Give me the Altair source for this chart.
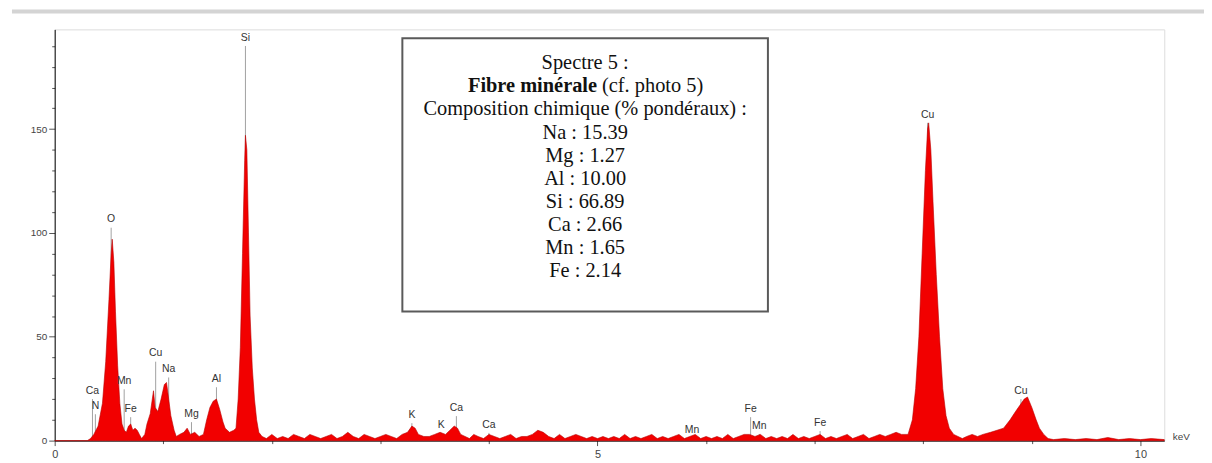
import altair as alt
import pandas as pd

# Spectrum (energy in keV, counts)
energy = [0.00, 0.30, 0.33, 0.36, 0.40, 0.44, 0.47, 0.50, 0.52, 0.53, 0.545, 0.56, 0.58, 0.60, 0.62, 0.64,
          0.66, 0.68, 0.70, 0.72, 0.74, 0.76, 0.78, 0.80, 0.83, 0.85, 0.88, 0.91, 0.925, 0.95, 0.98, 1.01,
          1.03, 1.05, 1.07, 1.10, 1.12, 1.15, 1.19, 1.22, 1.25, 1.29, 1.33, 1.37, 1.40, 1.43, 1.46, 1.49,
          1.52, 1.55, 1.57, 1.61, 1.65, 1.67, 1.69, 1.71, 1.73, 1.75, 1.757, 1.77, 1.785, 1.80, 1.82, 1.84,
          1.86, 1.88, 1.91, 1.95, 2.00, 2.05, 2.10, 2.15, 2.20, 2.25, 2.30, 2.35, 2.40, 2.45, 2.50, 2.55,
          2.60, 2.65, 2.70, 2.75, 2.80, 2.85, 2.90, 2.95, 3.00, 3.05, 3.10, 3.15, 3.20, 3.25, 3.29, 3.32,
          3.35, 3.40, 3.45, 3.50, 3.55, 3.60, 3.64, 3.68, 3.71, 3.74, 3.78, 3.82, 3.86, 3.90, 3.95, 4.00,
          4.05, 4.10, 4.15, 4.20, 4.25, 4.30, 4.35, 4.40, 4.45, 4.50, 4.55, 4.60, 4.65, 4.70, 4.75, 4.80,
          4.85, 4.90, 4.95, 5.00, 5.05, 5.10, 5.15, 5.20, 5.25, 5.30, 5.35, 5.40, 5.45, 5.50, 5.55, 5.60,
          5.65, 5.70, 5.75, 5.80, 5.85, 5.90, 5.95, 6.00, 6.05, 6.10, 6.15, 6.20, 6.25, 6.30, 6.35, 6.40,
          6.45, 6.50, 6.55, 6.60, 6.65, 6.70, 6.75, 6.80, 6.85, 6.90, 6.95, 7.00, 7.05, 7.10, 7.15, 7.20,
          7.25, 7.30, 7.35, 7.40, 7.45, 7.50, 7.55, 7.60, 7.65, 7.70, 7.75, 7.80, 7.86, 7.90, 7.93, 7.96,
          7.99, 8.02, 8.04, 8.05, 8.07, 8.09, 8.12, 8.15, 8.18, 8.21, 8.24, 8.28, 8.32, 8.36, 8.40, 8.45,
          8.50, 8.55, 8.62, 8.68, 8.74, 8.80, 8.85, 8.89, 8.93, 8.96, 9.00, 9.04, 9.07, 9.11, 9.15, 9.20,
          9.30, 9.40, 9.50, 9.60, 9.70, 9.80, 9.90, 10.00, 10.10, 10.22]
counts = [0, 0, 1, 3, 7, 18, 38, 68, 90, 97, 86, 62, 36, 18, 8, 5,
          4, 7, 8, 5, 6, 5, 3, 1, 3, 8, 13, 24, 16, 14, 20, 27,
          28, 20, 12, 5, 2, 3, 4, 6, 3, 4, 2, 3, 10, 16, 19, 20,
          15, 9, 6, 4, 5, 6, 20, 45, 90, 135, 147, 140, 100, 60, 35, 20,
          10, 4, 2, 1, 3, 1, 2, 1, 3, 2, 1, 3, 2, 1, 2, 3,
          1, 2, 4, 2, 1, 3, 2, 1, 2, 3, 2, 1, 3, 4, 7, 6,
          3, 2, 2, 3, 4, 3, 5, 7, 6, 3, 2, 1, 3, 2, 1, 3,
          2, 1, 2, 3, 1, 2, 2, 3, 5, 4, 2, 1, 3, 1, 2, 3,
          2, 1, 2, 1, 2, 1, 2, 1, 3, 1, 2, 1, 2, 3, 1, 2,
          1, 2, 3, 1, 2, 3, 1, 2, 1, 2, 1, 3, 1, 2, 3, 3,
          2, 3, 1, 2, 1, 2, 1, 3, 1, 2, 1, 2, 3, 1, 2, 1,
          2, 3, 1, 2, 3, 1, 2, 3, 2, 3, 4, 3, 3, 10, 25, 50,
          90, 130, 150, 153, 140, 115, 80, 50, 25, 12, 6, 3, 2, 1, 2, 3,
          2, 3, 4, 5, 6, 10, 14, 17, 20, 21, 16, 10, 6, 3, 1, 0.5,
          1, 0.5, 1, 0.5, 1.5, 0.5, 1, 0.5, 1, 0.5]

# Peak labels
peak_names = ["Ca", "N", "O", "Mn", "Fe", "Cu", "Na", "Mg", "Al", "Si",
              "K", "K", "Ca", "Ca", "Mn", "Fe", "Mn", "Fe", "Cu", "Cu"]
peak_kev = [0.348, 0.375, 0.52, 0.64, 0.70, 0.93, 1.05, 1.26, 1.49, 1.757,
            3.29, 3.56, 3.70, 4.00, 5.87, 6.41, 6.49, 7.05, 8.04, 8.90]
peak_label_y = [24, 16.7, 106.5, 28.7, 15.3, 42, 34.4, 12.9, 29.7, 194,
                12.4, 7.7, 15.8, 7.7, 5.3, 15.3, 7.2, 8.6, 157, 24]

# Axis tick values
x_ticks = list(range(0, 11))
y_ticks = list(range(0, 200, 10))

# Text box contents
box_title = "Spectre 5 :"
box_bold = "Fibre minérale"
box_normal = "(cf. photo 5)"
box_lines = ["Composition chimique (% pondéraux) :", "Na : 15.39", "Mg : 1.27",
             "Al : 10.00", "Si : 66.89", "Ca : 2.66", "Mn : 1.65", "Fe : 2.14"]

spec = pd.DataFrame({"keV": energy, "counts": counts})
peaks = pd.DataFrame({"name": peak_names, "keV": peak_kev, "ly": peak_label_y})
lines = pd.DataFrame({"txt": box_lines, "i": list(range(2, 2 + len(box_lines)))})

xscale = alt.Scale(domain=[0, 10.22], nice=False, zero=False)
yscale = alt.Scale(domain=[0, 198], nice=False, zero=True)

xaxis = alt.Axis(values=x_ticks, format="d", labelOverlap=False, labelFlush=False,
                 labelExpr="datum.value % 5 === 0 ? datum.label : ''",
                 tickSize={"condition": {"test": "datum.value % 5 === 0", "value": 5}, "value": 3},
                 tickColor="#555", domainColor="#000", grid=False,
                 labelFont="Liberation Sans", labelFontSize=11, labelColor="#444", labelPadding=3,
                 title="keV", titleX=1125, titleY=-4, titleAlign="left", titleBaseline="middle",
                 titleFont="Liberation Sans", titleFontSize=10, titleFontWeight="normal",
                 titleColor="#444", titleAnchor="start")
yaxis = alt.Axis(values=y_ticks, format="d", labelOverlap=False, labelFlush=False,
                 labelExpr="datum.value % 50 === 0 ? datum.label : ''",
                 tickSize={"condition": {"test": "datum.value % 50 === 0", "value": 6}, "value": 3},
                 tickColor="#555", domainColor="#000", grid=False,
                 labelFont="Liberation Sans", labelFontSize=10, labelColor="#444", labelPadding=2,
                 title=None)

X = lambda f: alt.X(f, scale=xscale, axis=xaxis)
Y = lambda f: alt.Y(f, scale=yscale, axis=yaxis)

markers = alt.Chart(peaks).transform_calculate(ly2="datum.ly - 4").mark_rule(
    color="#8a8a8a", strokeWidth=0.8
).encode(x=X("keV:Q"), y=Y("ly2:Q"), y2=alt.datum(0))

area = alt.Chart(spec).mark_area(color="#f20000", stroke="#b80000", strokeWidth=0.6).encode(
    x=X("keV:Q"), y=Y("counts:Q")
)

labels = alt.Chart(peaks).mark_text(
    font="Liberation Sans", fontSize=10.5, color="#333", baseline="middle", align="center"
).encode(x=X("keV:Q"), y=Y("ly:Q"), text="name:N")

box = alt.Chart(pd.DataFrame({"k": [0]})).mark_rect(
    fill="white", stroke="#5a5a5a", strokeWidth=2
).encode(x=alt.value(350), x2=alt.value(718), y=alt.value(9), y2=alt.value(284))

serif = "Liberation Serif"
title_txt = alt.Chart(pd.DataFrame({"t": [box_title]})).mark_text(
    font=serif, fontSize=20.5, color="#111", align="center", baseline="middle"
).encode(x=alt.value(534), y=alt.value(34), text="t:N")

bold_txt = alt.Chart(pd.DataFrame({"t": [box_bold]})).mark_text(
    font=serif, fontSize=20.5, fontWeight="bold", color="#111", align="right", baseline="middle"
).encode(x=alt.value(546), y=alt.value(57.3), text="t:N")

normal_txt = alt.Chart(pd.DataFrame({"t": [box_normal]})).mark_text(
    font=serif, fontSize=20.5, color="#111", align="left", baseline="middle"
).encode(x=alt.value(551), y=alt.value(57.3), text="t:N")

body_txt = alt.Chart(lines).transform_calculate(py="34 + 23.3 * datum.i").mark_text(
    font=serif, fontSize=20.5, color="#111", align="center", baseline="middle"
).encode(x=alt.value(534), y=alt.Y("py:Q", scale=None, axis=None), text="txt:N")

topline = alt.Chart(pd.DataFrame({"k": [0]})).mark_rule(color="#d4d4d4", strokeWidth=4).encode(
    x=alt.value(-43), x2=alt.value(1157), y=alt.value(-18)
)

chart = alt.layer(
    topline, markers, area, labels, box, title_txt, bold_txt, normal_txt, body_txt
).properties(
    width=1117, height=414,
    autosize=alt.AutoSizeParams(type="none"),
    padding={"left": 47, "top": 20, "right": 40, "bottom": 21},
).configure_view(stroke="#8c8c8c", strokeWidth=1.2).configure(background="white")

chart.save("out.html", embed_options={"renderer": "svg", "actions": False})
